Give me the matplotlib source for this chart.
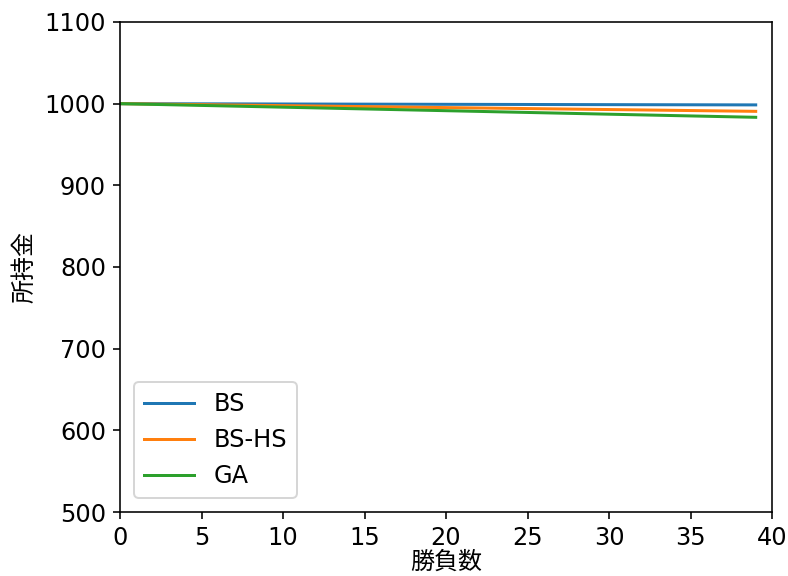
import matplotlib.pyplot as plt

plt.rcParams['font.family'] = ['DejaVu Sans', 'Noto Sans CJK JP']

# 勝負数と所持金 (読み取り値)
games = [0, 10, 20, 30, 39]
bs = [1000.0, 999.6, 999.2, 998.8, 998.5]
bs_hs = [1000.0, 997.6, 995.2, 992.8, 990.6]
ga = [1000.0, 995.7, 991.4, 987.1, 983.3]

fig = plt.figure(figsize=(788 / 144, 576 / 144), dpi=144)
ax = fig.add_subplot(111)
fig.subplots_adjust(left=120 / 788, right=772 / 788, top=1 - 22 / 576, bottom=1 - 512 / 576)

ax.plot(games, bs, label='BS')
ax.plot(games, bs_hs, label='BS-HS')
ax.plot(games, ga, label='GA')

ax.set_xlim(0, 40)
ax.set_ylim(500, 1100)
ax.tick_params(labelsize=12)
ax.set_xlabel('勝負数', fontsize=12, labelpad=0)
ax.set_ylabel('所持金', fontsize=12)
ax.legend(loc='lower left', fontsize=12, handlelength=2.1, borderaxespad=0.6)

fig.savefig('out.png', dpi=144)
